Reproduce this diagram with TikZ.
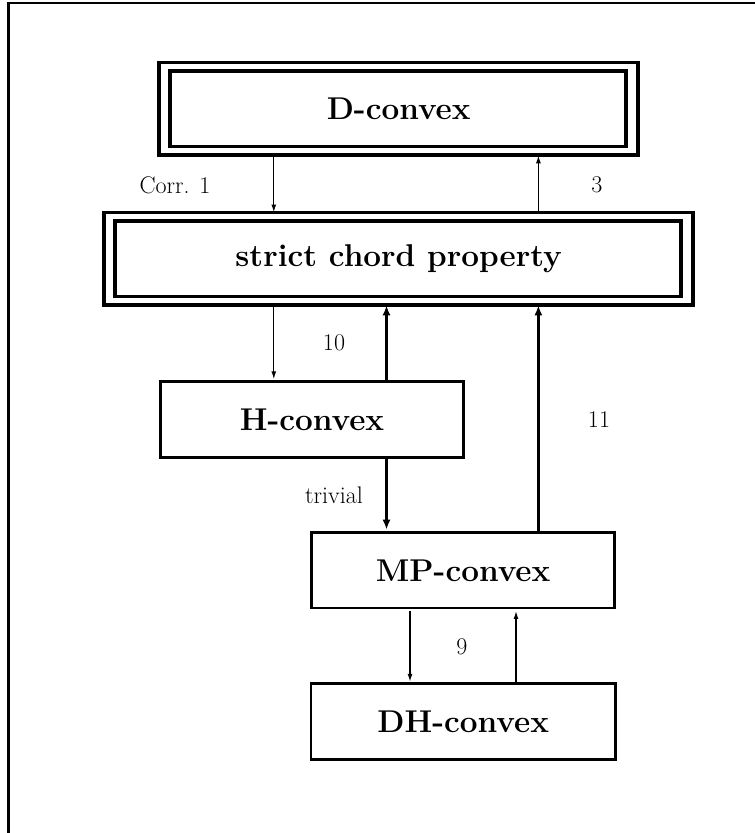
\documentclass[tikz,border=0pt]{standalone}
\usetikzlibrary{arrows.meta}
\begin{document}
\begin{tikzpicture}[x=1pt,y=-1pt,
 box/.style={draw, line width=2.7pt, inner sep=0pt, outer sep=0pt, font=\fontsize{31.5}{37}\selectfont\bfseries},
 dbox/.style={box, line width=3.8pt},
 innerframe/.style={line width=3.8pt},
 lbl/.style={font=\fontsize{24}{28}\selectfont, inner sep=0pt},
 thinarr/.style={line width=1.3pt, -{Latex[length=8pt,width=5pt]}},
 thickarr/.style={line width=2.4pt, -{Latex[length=10pt,width=8pt]}}]
\useasboundingbox (0,0) rectangle (755,833);
\begin{scope}
\clip (0,0) rectangle (755,833);
\draw[line width=2.8pt] (8.5,860) -- (8.5,3) -- (780,3);
\end{scope}

% nodes
\node[dbox, minimum width=478.7pt, minimum height=92.8pt] (d) at (398.7,108.9) {D-convex};
\draw[innerframe] ([xshift=11pt,yshift=-8.3pt]d.north west) rectangle ([xshift=-12pt,yshift=8.8pt]d.south east);
\node[dbox, minimum width=588.7pt, minimum height=92.8pt] (s) at (398.7,258.9) {strict chord property};
\draw[innerframe] ([xshift=11pt,yshift=-8.3pt]s.north west) rectangle ([xshift=-12pt,yshift=8.8pt]s.south east);
\node[box, minimum width=303.5pt, minimum height=76pt] (h) at (312,419.3) {H-convex};
\node[box, minimum width=303.4pt, minimum height=75.3pt] (mp) at (463.1,570.3) {MP-convex};
\node[box, minimum width=304.5pt, minimum height=76.2pt] (dh) at (463.2,721.4) {DH-convex};

% columns
\coordinate (c1) at (273.8,0);
\coordinate (c2) at (538.4,0);
\coordinate (c3) at (386.5,0);
\coordinate (c4) at (410,0);
\coordinate (c5) at (516,0);

% connectors
\draw[thinarr] (d.south -| c1) -- (s.north -| c1);
\draw[thinarr] (s.north -| c2) -- (d.south -| c2);
\draw[thinarr, shorten >=2pt] (s.south -| c1) -- (h.north -| c1);
\draw[thickarr] (h.north -| c3) -- (s.south -| c3);
\draw[thickarr, shorten <=2pt, shorten >=3pt] (h.south -| c3) -- (mp.north -| c3);
\draw[thickarr] (mp.north -| c2) -- (s.south -| c2);
\draw[thinarr, shorten <=3pt, shorten >=1.5pt] (mp.south -| c4) -- (dh.north -| c4);
\draw[thinarr, shorten >=3pt] (dh.north -| c5) -- (mp.south -| c5);

% labels
\node[lbl] (l1) at (175,185) {Corr. 1};
\node[lbl] (l3) at (597,185) {3};
\node[lbl] (l10) at (334,343) {10};
\node[lbl] (l11) at (599,420) {11};
\node[lbl] (ltr) at (334,495) {trivial};
\node[lbl] (l9) at (462,647) {9};
\end{tikzpicture}
\end{document}
